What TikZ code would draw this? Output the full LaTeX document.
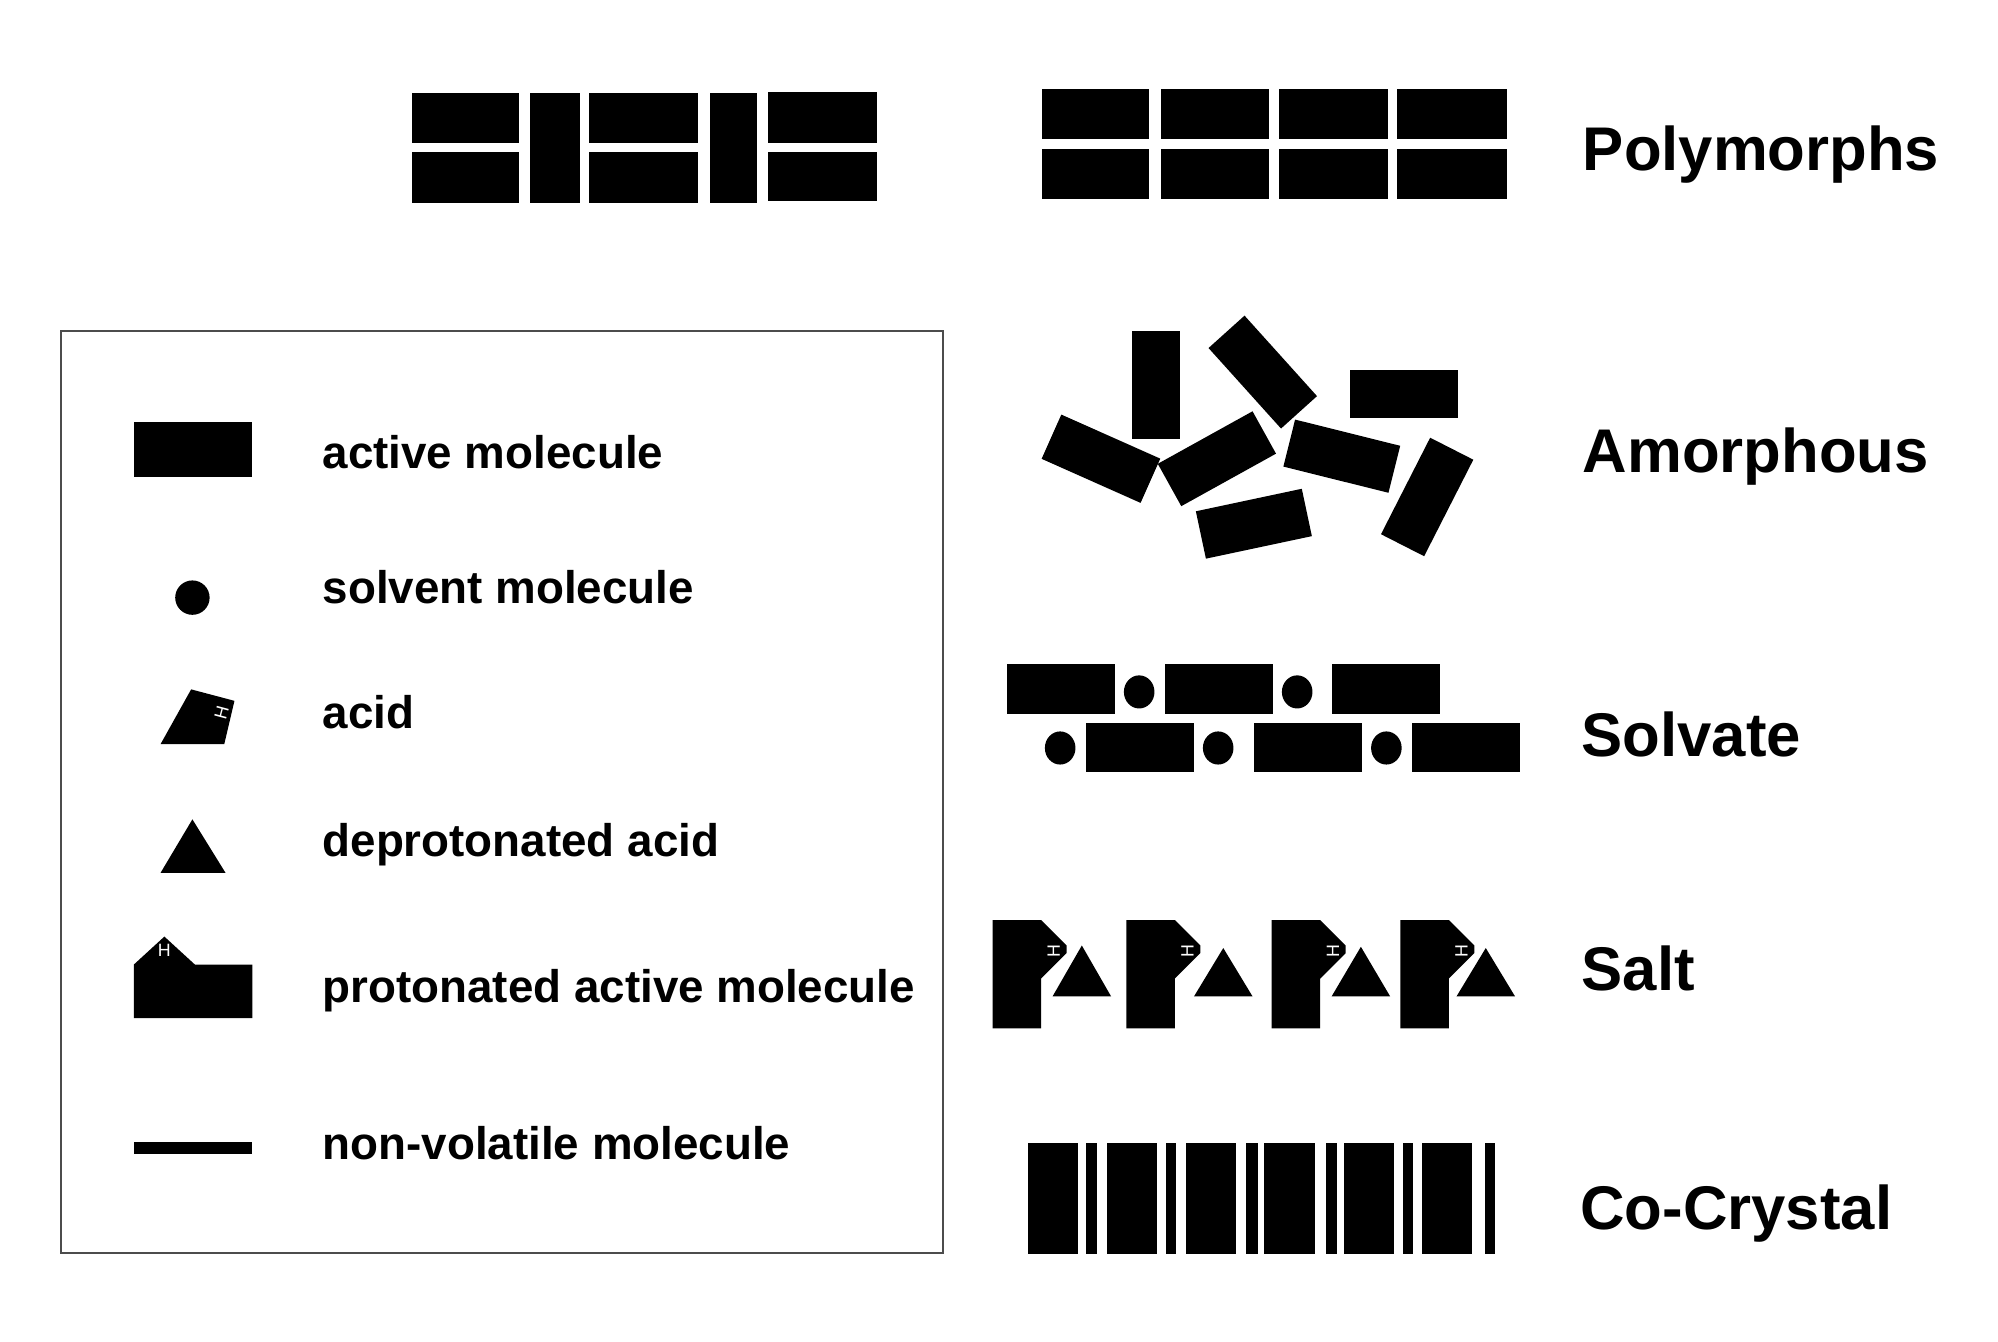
\documentclass[tikz,border=0pt]{standalone}
\usepackage{fontspec}
\setmainfont{Liberation Sans}
\tikzset{
    molecule/.style={fill=black},
    legendbox/.style={draw=black!70, line width=1.6pt},
    legendlabel/.style={anchor=base west, inner sep=0pt, font=\fontsize{35.9}{36}\selectfont\bfseries},
    formlabel/.style={anchor=base west, inner sep=0pt, font=\fontsize{48.4}{48}\selectfont\bfseries},
    hydrogen/.style={inner sep=0pt, text=white, font=\fontsize{14}{14}\selectfont}
}
\begin{document}
\begin{tikzpicture}[x=1pt, y=-1pt]
    \useasboundingbox (0,0) rectangle (1568,1052.4);

    % polymorphs
    \foreach \xa/\xb in {323/407, 462/548} {
        \fill[molecule] (\xa,73) rectangle (\xb,112);
        \fill[molecule] (\xa,119) rectangle (\xb,159);
    }
    \fill[molecule] (603,72) rectangle (688,112);
    \fill[molecule] (603,119) rectangle (688,158);
    \fill[molecule] (416,73) rectangle (455,159);
    \fill[molecule] (557,73) rectangle (594,159);

    \foreach \xa/\xb in {818/902, 911/996, 1004/1089, 1096/1183} {
        \fill[molecule] (\xa,70) rectangle (\xb,109);
        \fill[molecule] (\xa,117) rectangle (\xb,156);
    }

    \node[formlabel] (polymorphs) at (1242,134) {Polymorphs};

    % amorphous
    \foreach \cx/\cy/\ang in {907/302/90, 991/292/-48, 1102/309/0, 864/360/-24, 955/360/29, 1053/358/-14, 984/411/12, 1120/390/63} {
        \fill[molecule, shift={(\cx,\cy)}, rotate=\ang] (-42.5,-19) rectangle (42.5,19);
    }

    \node[formlabel] (amorphous) at (1242,371) {Amorphous};

    % solvate
    \foreach \xa in {790, 914, 1045} {
        \fill[molecule] (\xa,521) rectangle (\xa+85,560);
    }
    \foreach \xa in {852, 984, 1108} {
        \fill[molecule] (\xa,567) rectangle (\xa+85,606);
    }
    \foreach \cx in {894, 1018} {
        \fill[molecule] (\cx,543) ellipse [x radius=12, y radius=13];
    }
    \foreach \cx in {832, 956, 1088} {
        \fill[molecule] (\cx,587) ellipse [x radius=12, y radius=13];
    }

    \node[formlabel] (solvate) at (1241,594) {Solvate};

    % salt
    \foreach \lx/\ax/\ay in {779/849/742, 884/960/744, 998/1068/743, 1099/1166/744} {
        \fill[molecule] (\lx,722) -- (\lx+38,722) -- (\lx+58,742) -- (\lx+58,748) -- (\lx+38,768) -- (\lx+38,807) -- (\lx,807) -- cycle;
        \fill[molecule] (\ax,\ay) -- (\ax+23,782) -- (\ax-23,782) -- cycle;
        \node[hydrogen, rotate=90] (h\lx) at (\lx+48,746) {H};
    }

    \node[formlabel] (salt) at (1241,777) {Salt};

    % co-crystal
    \foreach \xa/\xb in {807/846, 869/908, 931/970, 992/1032, 1055/1094, 1116/1155, 852/861, 915/923, 978/987, 1041/1049, 1101/1109, 1165/1173} {
        \fill[molecule] (\xa,897) rectangle (\xb,984);
    }

    \node[formlabel] (cocrystal) at (1240,965) {Co-Crystal};

    % legend
    \draw[legendbox] (48,260) rectangle (740,983);

    \fill[molecule] (105,331) rectangle (198,374);
    \node[legendlabel] (active) at (253,368) {active molecule};

    \fill[molecule] (151,469) circle (13.5);
    \node[legendlabel] (solvent) at (253,474) {solvent molecule};

    \fill[molecule] (126,584) -- (150,541) -- (184,550) -- (176,584) -- cycle;
    \node[hydrogen, rotate=75] (hacid) at (174,559) {H};
    \node[legendlabel] (acid) at (253,572) {acid};

    \fill[molecule] (151,643) -- (177,685) -- (126,685) -- cycle;
    \node[legendlabel] (deprotonated) at (253,672) {deprotonated acid};

    \fill[molecule] (105,757) -- (129,735) -- (153,757) -- (198,757) -- (198,799) -- (105,799) -- cycle;
    \node[hydrogen] (hprot) at (129,746) {H};
    \node[legendlabel] (protonated) at (253,787) {protonated active molecule};

    \fill[molecule] (105,896) rectangle (198,906);
    \node[legendlabel] (nonvolatile) at (253,910) {non-volatile molecule};
\end{tikzpicture}
\end{document}
